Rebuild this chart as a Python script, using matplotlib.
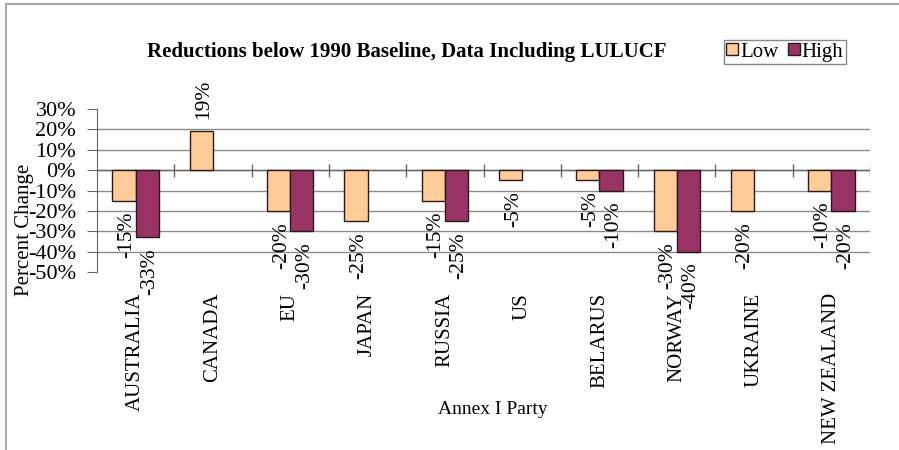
import numpy as np
import matplotlib
matplotlib.use("Agg")
import matplotlib.pyplot as plt
from matplotlib.lines import Line2D

categories = ["AUSTRALIA", "CANADA", "EU", "JAPAN", "RUSSIA", "US",
              "BELARUS", "NORWAY", "UKRAINE", "NEW ZEALAND"]
low_values = [-15, 19, -20, -25, -15, -5, -5, -30, -20, -10]
high_values = [-33, None, -30, None, -25, None, -10, -40, None, -20]
y_ticks = [30, 20, 10, 0, -10, -20, -30, -40, -50]
series_names = ["Low", "High"]
title = "Reductions below 1990 Baseline, Data Including LULUCF"
x_title = "Annex I Party"
y_title = "Percent Change"

plt.rcParams['font.family'] = ['Liberation Serif', 'DejaVu Serif']

LOW_C = "#FFCC99"
HIGH_C = "#993366"
EDGE = "#2a1a1a"
GRID = "#8c8c8c"

fig = plt.figure(figsize=(8.99, 4.5), dpi=100)
ax = fig.add_axes([97/899, (450-272)/450, (870-97)/899, (272-109)/450])

x = np.arange(len(categories))
w = 0.3

# gridlines (excluding top and bottom limits)
for t in y_ticks[1:-1]:
    ax.axhline(t, color=GRID, lw=1.0, zorder=0)

def draw_series(vals, offset, color):
    for xi, v in zip(x, vals):
        if v is None:
            continue
        ax.bar(xi + offset, v, width=w, color=color, edgecolor=EDGE,
               linewidth=1.0, zorder=3)
        lab = f"{v}%"
        if v >= 0:
            ax.annotate(lab, (xi + offset, v), xytext=(2, 9),
                        textcoords="offset points", rotation=90,
                        ha="center", va="bottom", fontsize=15.5, zorder=4)
        else:
            ax.annotate(lab, (xi + offset, v), xytext=(2, -8),
                        textcoords="offset points", rotation=90,
                        ha="center", va="top", fontsize=15.5, zorder=4)

draw_series(low_values, -w/2, LOW_C)
draw_series(high_values, w/2, HIGH_C)

# category axis at zero with crossing tick marks
ax.axhline(0, color="#666666", lw=1.0, zorder=2)
bounds = np.arange(len(categories)) + 0.5
ax.vlines(bounds, -3.2, 3.2, color="#666666", lw=1.0, zorder=2)

ax.set_xlim(-0.5, len(categories) - 0.5)
ax.set_ylim(min(y_ticks), max(y_ticks))
ax.set_yticks(y_ticks)
ax.set_yticklabels([f"{t}%" for t in y_ticks], fontsize=16)
ax.tick_params(axis="y", direction="out", length=7, color="#666666", pad=8)

ax.set_xticks(x)
ax.set_xticklabels(categories, rotation=90, fontsize=15)
ax.tick_params(axis="x", length=0, pad=15)

for s in ["top", "right", "bottom"]:
    ax.spines[s].set_visible(False)
ax.spines["left"].set_color("#666666")
ax.set_facecolor("none")

fig.text(25/899, 1 - 230/450, y_title, rotation=90, ha="center", va="center",
         fontsize=15)
fig.text(493/899, 1 - 410/450, x_title, ha="center", va="center", fontsize=14)
fig.text(407/899, 1 - 52/450, title, ha="center", va="center", fontsize=15,
         fontweight="bold")

handles = [Line2D([0], [0], marker="s", ls="none", markersize=9,
                  markerfacecolor=LOW_C, markeredgecolor=EDGE),
           Line2D([0], [0], marker="s", ls="none", markersize=9,
                  markerfacecolor=HIGH_C, markeredgecolor=EDGE)]
leg = fig.legend(handles, series_names, loc="upper left",
                 bbox_to_anchor=(724/899, 1 - 40/450), ncol=2, fontsize=15,
                 handlelength=0.6, handletextpad=0.1, columnspacing=0.4,
                 borderpad=0.1, borderaxespad=0, fancybox=False,
                 framealpha=1, edgecolor="#888888")
leg.get_frame().set_linewidth(1.0)

# figure frame (left and top lines)
fig.add_artist(Line2D([6/899, 6/899], [0, 1 - 4/450], color="#aaaaaa",
                      lw=1.5, transform=fig.transFigure))
fig.add_artist(Line2D([6/899, 1], [1 - 4/450, 1 - 4/450], color="#aaaaaa",
                      lw=1.5, transform=fig.transFigure))

fig.savefig("out.png", dpi=100)
